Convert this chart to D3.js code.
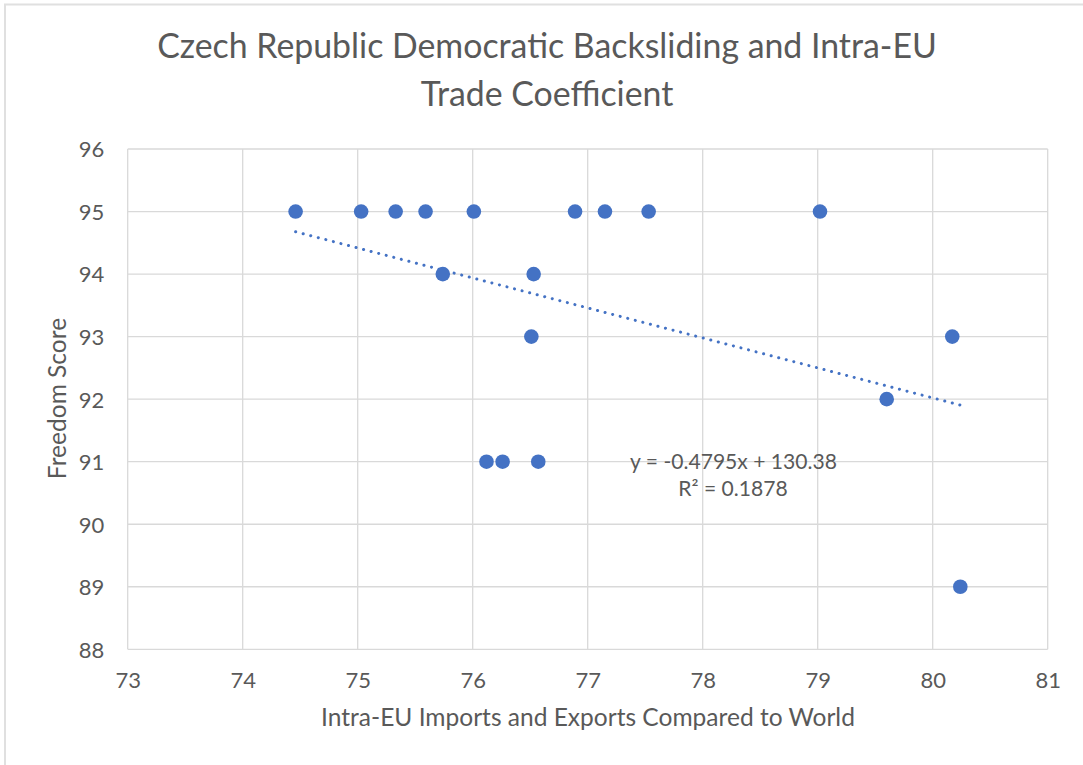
<!DOCTYPE html>
<html>
<head>
<meta charset="utf-8">
<script src="https://cdn.jsdelivr.net/npm/d3@7"></script>
<style>
  html, body { margin: 0; padding: 0; background: #fff; }
  svg { display: block; }
  text { font-family: Lato, "Open Sans", sans-serif; fill: #595959; }
</style>
</head>
<body>
<script>
// Intra-EU trade share (x) against Freedom House score (y)
const tradeShare = [74.46, 75.03, 75.33, 75.59, 76.01, 76.89, 77.15, 77.53, 79.02,
                    75.74, 76.53, 76.51, 80.17, 79.60, 76.12, 76.26, 76.57, 80.24];
const freedomScore = [95, 95, 95, 95, 95, 95, 95, 95, 95,
                      94, 94, 93, 93, 92, 91, 91, 91, 89];
const xTicks = [73, 74, 75, 76, 77, 78, 79, 80, 81];
const yTicks = [88, 89, 90, 91, 92, 93, 94, 95, 96];
const trendSlope = -0.4795;
const trendIntercept = 130.38;
const trendR2 = 0.1878;

const W = 1083, H = 765;
const plot = { left: 127.7, right: 1047.7, top: 149, bottom: 649.3 };

const svg = d3.select("body").append("svg").attr("width", W).attr("height", H);

// size a text node so that its rendered width equals the given width
function fitWidth(sel, width) {
  sel.style("font-size", "100px");
  const len = sel.node().getComputedTextLength();
  const fs = 100 * width / len;
  sel.style("font-size", fs + "px");
  return fs;
}

// chart frame (top and left edges visible)
svg.append("path")
  .attr("d", `M5,${H} V4.5 H${W}`)
  .attr("fill", "none").attr("stroke", "#e0e0e0").attr("stroke-width", 2);

const x = d3.scaleLinear().domain([73, 81]).range([plot.left, plot.right]);
const y = d3.scaleLinear().domain([88, 96]).range([plot.bottom, plot.top]);

// gridlines
const grid = svg.append("g");
grid.selectAll("line.v").data(xTicks).join("line")
  .attr("x1", d => x(d)).attr("x2", d => x(d))
  .attr("y1", plot.top).attr("y2", plot.bottom)
  .attr("stroke", "#d9d9d9").attr("stroke-width", 1.3);
grid.selectAll("line.h").data(yTicks).join("line")
  .attr("x1", plot.left).attr("x2", plot.right)
  .attr("y1", d => y(d)).attr("y2", d => y(d))
  .attr("stroke", "#d9d9d9").attr("stroke-width", 1.3);

// axes (labels only)
const tickFs = 22;
const xAxis = svg.append("g").attr("transform", `translate(0,${plot.bottom})`)
  .call(d3.axisBottom(x).tickValues(xTicks).tickSize(0).tickPadding(0).tickFormat(d3.format("d")));
xAxis.select(".domain").remove();
xAxis.selectAll("text").attr("dy", null).attr("y", 38.5)
  .style("font-size", tickFs + "px").style("fill", "#595959");

const yAxis = svg.append("g").attr("transform", `translate(${plot.left},0)`)
  .call(d3.axisLeft(y).tickValues(yTicks).tickSize(0).tickPadding(23.5).tickFormat(d3.format("d")));
yAxis.select(".domain").remove();
yAxis.selectAll("text").attr("dy", "0.36em")
  .style("font-size", tickFs + "px").style("fill", "#595959");

// linear trendline over the x range of the data
const xr = d3.extent(tradeShare);
const line = d3.line().x(d => x(d)).y(d => y(trendSlope * d + trendIntercept));
svg.append("path")
  .attr("d", line(xr))
  .attr("fill", "none")
  .attr("stroke", "#4472c4")
  .attr("stroke-width", 3)
  .attr("stroke-linecap", "round")
  .attr("stroke-dasharray", "0.1 7.7");

// markers
svg.append("g").selectAll("circle")
  .data(tradeShare.map((v, i) => [v, freedomScore[i]]))
  .join("circle")
  .attr("cx", d => x(d[0])).attr("cy", d => y(d[1]))
  .attr("r", 7.3)
  .attr("fill", "#4472c4");

// trendline equation
const eq1 = svg.append("text").attr("text-anchor", "middle")
  .attr("x", 733.5).attr("y", 469)
  .text(`y = ${trendSlope}x + ${trendIntercept}`);
const eqFs = fitWidth(eq1, 207);
svg.append("text").attr("text-anchor", "middle")
  .attr("x", 733).attr("y", 495.5)
  .style("font-size", eqFs + "px")
  .text(`R² = ${trendR2}`);

// title
const t1 = svg.append("text").attr("text-anchor", "middle")
  .attr("x", 547).attr("y", 58)
  .text("Czech Republic Democratic Backsliding and Intra-EU");
const titleFs = fitWidth(t1, 780);
svg.append("text").attr("text-anchor", "middle")
  .attr("x", 547).attr("y", 106)
  .style("font-size", titleFs + "px")
  .text("Trade Coefficient");

// axis titles
const xt = svg.append("text").attr("x", 588).attr("y", 726)
  .attr("text-anchor", "middle")
  .text("Intra-EU Imports and Exports Compared to World");
const axFs = fitWidth(xt, 534);
svg.append("text")
  .attr("transform", "translate(66,398.5) rotate(-90)")
  .attr("text-anchor", "middle").style("font-size", axFs + "px")
  .text("Freedom Score");
</script>
</body>
</html>
